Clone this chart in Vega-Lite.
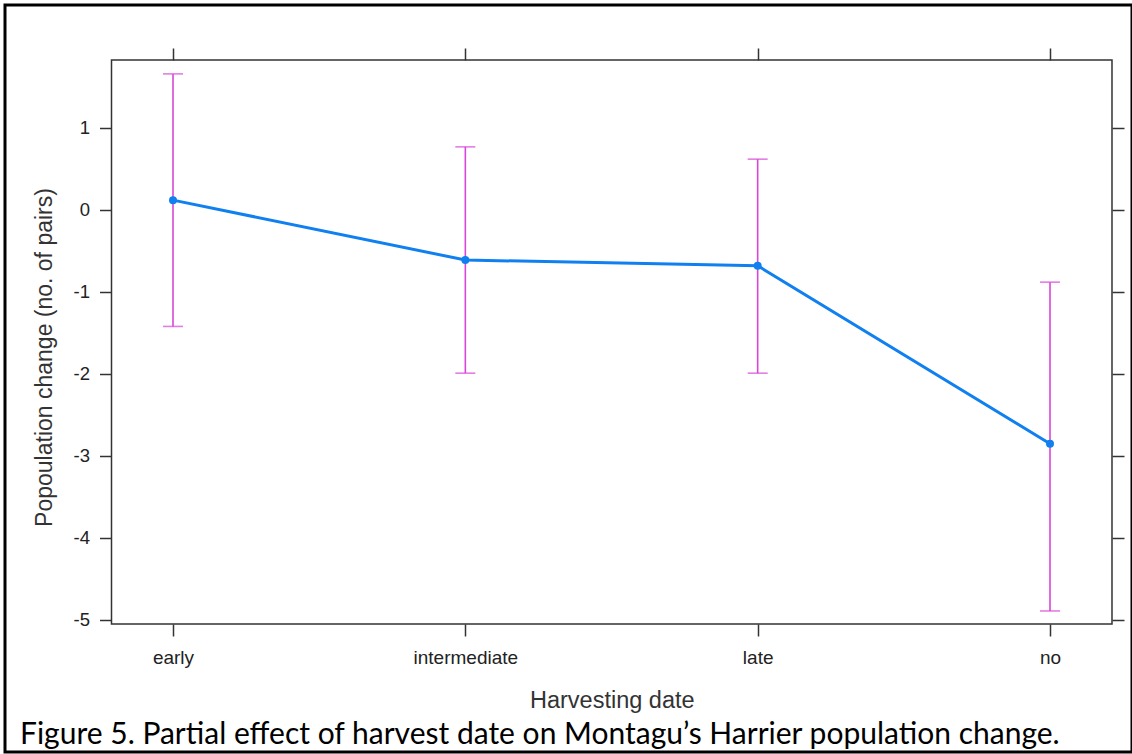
{
  "$schema": "https://vega.github.io/schema/vega-lite/v6.json",
  "width": 1127,
  "height": 747,
  "autosize": {"type": "none"},
  "padding": {"left": 5, "top": 5, "right": 0, "bottom": 2},
  "background": "white",
  "config": {
    "view": {"stroke": "black", "strokeWidth": 3},
    "axis": {
      "domain": false,
      "grid": false,
      "tickColor": "#333333",
      "tickWidth": 1.5,
      "tickSize": 12,
      "labelFont": "Liberation Sans",
      "labelColor": "#222222",
      "titleFont": "Liberation Sans",
      "titleColor": "#333333",
      "titleFontWeight": "normal"
    }
  },
  "title": {
    "text": "Figure 5. Partial effect of harvest date on Montagu’s Harrier population change.",
    "orient": "bottom",
    "anchor": "start",
    "frame": "group",
    "offset": -8,
    "baseline": "alphabetic",
    "font": "Lato",
    "fontSize": 30,
    "fontWeight": "normal",
    "color": "#000000",
    "dx": 15
  },
  "data": {
    "values": [
      {"cat": "early", "est": 0.12, "lower": -1.42, "upper": 1.66},
      {"cat": "intermediate", "est": -0.61, "lower": -1.99, "upper": 0.77},
      {"cat": "late", "est": -0.68, "lower": -1.99, "upper": 0.62},
      {"cat": "no", "est": -2.85, "lower": -4.89, "upper": -0.88}
    ]
  },
  "resolve": {"axis": {"x": "independent", "y": "independent"}},
  "layer": [
    {
      "data": {"values": [{}]},
      "mark": {"type": "rect", "fill": "transparent", "stroke": "#333333", "strokeWidth": 1.5, "xOffset": -61.5, "x2Offset": 62},
      "encoding": {
        "x": {"datum": "early", "type": "ordinal", "scale": {"type": "point", "domain": ["early", "intermediate", "late", "no"], "padding": 0.4276, "align": 0.672}, "axis": null},
        "x2": {"datum": "no"},
        "y": {"datum": 1.829, "type": "quantitative", "scale": {"domain": [-6.61, 2.5], "nice": false, "zero": false}, "axis": null},
        "y2": {"datum": -5.049}
      }
    },
    {
      "mark": {"type": "rule", "color": "#d946d9", "strokeWidth": 1.6},
      "encoding": {
        "x": {
          "field": "cat", "type": "ordinal",
          "scale": {"type": "point", "domain": ["early", "intermediate", "late", "no"], "padding": 0.4276, "align": 0.672},
          "axis": {
            "orient": "bottom", "offset": -128, "labelFontSize": 19, "labelPadding": 12, "labelAngle": 0,
            "title": "Harvesting date", "titleFontSize": 23.5, "titleX": 606.75, "titleY": 83,
            "titleBaseline": "alphabetic", "titleAlign": "center"
          }
        },
        "y": {
          "field": "lower", "type": "quantitative",
          "scale": {"domain": [-6.61, 2.5], "nice": false, "zero": false},
          "axis": {
            "orient": "left", "offset": -106.5, "values": [-5, -4, -3, -2, -1, 0, 1],
            "labelExpr": "'' + datum.value",
            "labelFontSize": 18.5, "labelPadding": 10,
            "title": "Popoulation change (no. of pairs)", "titleFontSize": 23,
            "titleX": -60.5, "titleY": 352, "titleAngle": 270,
            "titleBaseline": "alphabetic", "titleAlign": "center"
          }
        },
        "y2": {"field": "upper"}
      }
    },
    {
      "mark": {"type": "tick", "orient": "horizontal", "color": "#d946d9", "thickness": 1.6, "size": 20},
      "encoding": {
        "x": {
          "field": "cat", "type": "ordinal",
          "scale": {"type": "point", "domain": ["early", "intermediate", "late", "no"], "padding": 0.4276, "align": 0.672},
          "axis": {"orient": "top", "offset": -55, "labels": false, "title": null}
        },
        "y": {
          "field": "upper", "type": "quantitative",
          "scale": {"domain": [-6.61, 2.5], "nice": false, "zero": false},
          "axis": {"orient": "right", "offset": -20, "values": [-5, -4, -3, -2, -1, 0, 1], "labels": false, "title": null}
        }
      }
    },
    {
      "mark": {"type": "tick", "orient": "horizontal", "color": "#d946d9", "thickness": 1.6, "size": 20},
      "encoding": {
        "x": {"field": "cat", "type": "ordinal", "axis": null},
        "y": {"field": "lower", "type": "quantitative", "axis": null}
      }
    },
    {
      "mark": {"type": "line", "color": "#1080f0", "strokeWidth": 3, "point": {"filled": true, "size": 64, "color": "#1080f0"}},
      "encoding": {
        "x": {"field": "cat", "type": "ordinal", "axis": null},
        "y": {"field": "est", "type": "quantitative", "axis": null}
      }
    }
  ]
}
